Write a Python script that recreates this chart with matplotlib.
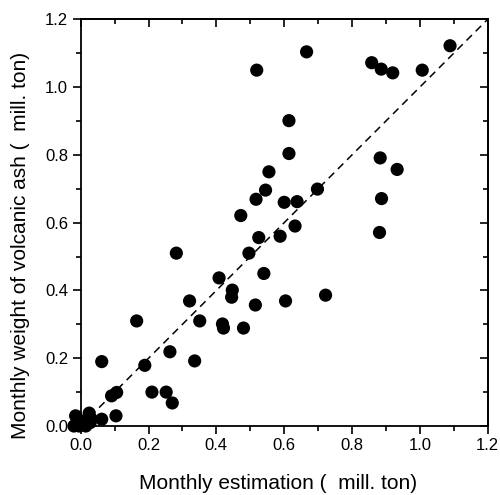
import matplotlib
matplotlib.use('Agg')
import matplotlib.pyplot as plt
from matplotlib.ticker import MultipleLocator
import numpy as np

plt.rcParams['font.family'] = ['Liberation Sans', 'DejaVu Sans']

# monthly estimation (x) vs measured weight of volcanic ash (y), mill. ton
estimation = [
    1.089, 0.666, 0.519, 0.858, 0.886, 0.920, 1.007,
    0.614, 0.614, 0.883, 0.933, 0.555, 0.545, 0.698,
    0.517, 0.600, 0.638, 0.887, 0.472, 0.632, 0.588,
    0.525, 0.881, 0.282, 0.496, 0.540, 0.408, 0.447,
    0.445, 0.722, 0.321, 0.515, 0.604, 0.165, 0.351,
    0.418, 0.421, 0.480, 0.263, 0.336, 0.062, 0.189,
    0.210, 0.252, 0.270, 0.091, 0.106, 0.104, 0.062,
    -0.020, -0.015, -0.005, 0.000, 0.005, 0.010,
    0.025, 0.030, 0.028, 0.015,
]
weight = [
    1.122, 1.104, 1.050, 1.072, 1.053, 1.042, 1.050,
    0.901, 0.804, 0.791, 0.757, 0.750, 0.696, 0.699,
    0.669, 0.660, 0.662, 0.671, 0.621, 0.590, 0.560,
    0.556, 0.571, 0.510, 0.510, 0.450, 0.437, 0.401,
    0.380, 0.386, 0.369, 0.357, 0.369, 0.310, 0.310,
    0.301, 0.289, 0.289, 0.219, 0.192, 0.190, 0.179,
    0.100, 0.100, 0.068, 0.089, 0.099, 0.030, 0.020,
    0.000, 0.030, 0.000, 0.005, 0.010, 0.015,
    0.038, 0.022, 0.010, 0.000,
]

fig = plt.figure(figsize=(5.0, 4.95), dpi=100)
ax = fig.add_axes([0.1614, 0.1394, 0.8140, 0.8216])

ax.scatter(estimation, weight, s=90, color='black', edgecolors='none',
           zorder=3, clip_on=False)
ref = np.array([0.0, 1.2])
ax.plot(ref, ref, color='black', lw=1.1, ls=(0, (5, 3.5)), zorder=2)

ax.set_xlim(0, 1.2)
ax.set_ylim(0, 1.2)
ax.xaxis.set_major_locator(MultipleLocator(0.2))
ax.yaxis.set_major_locator(MultipleLocator(0.2))
ax.xaxis.set_minor_locator(MultipleLocator(0.1))
ax.yaxis.set_minor_locator(MultipleLocator(0.1))
ax.xaxis.set_major_formatter(plt.FormatStrFormatter('%.1f'))
ax.yaxis.set_major_formatter(plt.FormatStrFormatter('%.1f'))

for s in ax.spines.values():
    s.set_linewidth(1.3)

# left/bottom ticks point out, top/right ticks point in
ax.tick_params(which='both', direction='out', labelsize=12, width=1.2,
               top=False, right=False, pad=3)
ax.tick_params(which='major', length=6)
ax.tick_params(which='minor', length=3.5)

sec_x = ax.secondary_xaxis('top')
sec_x.xaxis.set_major_locator(MultipleLocator(0.2))
sec_x.xaxis.set_minor_locator(MultipleLocator(0.1))
sec_x.tick_params(which='both', direction='in', labeltop=False, width=1.2)
sec_x.tick_params(which='major', length=6)
sec_x.tick_params(which='minor', length=3.5)
sec_x.spines['top'].set_linewidth(1.3)

sec_y = ax.secondary_yaxis('right')
sec_y.yaxis.set_major_locator(MultipleLocator(0.2))
sec_y.yaxis.set_minor_locator(MultipleLocator(0.1))
sec_y.tick_params(which='both', direction='in', labelright=False, width=1.2)
sec_y.tick_params(which='major', length=6)
sec_y.tick_params(which='minor', length=3.5)
sec_y.spines['right'].set_linewidth(1.3)

# axis titles placed like the original (slightly off-centre)
fig.text(0.556, 0.024, 'Monthly estimation (  mill. ton)', fontsize=15,
         ha='center', va='center')
fig.text(0.042, 0.505, 'Monthly weight of volcanic ash (  mill. ton)',
         fontsize=15, rotation=90, ha='center', va='center')

fig.savefig('out.png', dpi=100)
